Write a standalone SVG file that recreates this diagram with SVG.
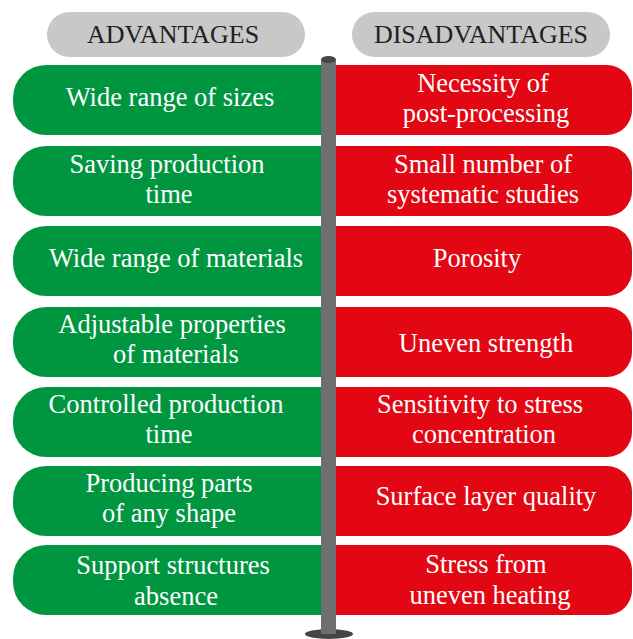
<svg xmlns="http://www.w3.org/2000/svg" width="633" height="639" viewBox="0 0 633 639">
  <style>
    .hdr { fill: #c8c8c8; }
    .hdr-t { font-family: "Liberation Serif", "Times New Roman", serif; font-size: 26px; fill: #231f20; text-anchor: middle; }
    .adv { fill: #009640; }
    .dis { fill: #e30613; }
    .item { font-family: "Liberation Serif", "Times New Roman", serif; font-size: 26.5px; fill: #ffffff; text-anchor: middle; }
    .pole { fill: #6f6f6f; }
    .pole-cap { fill: #454545; }
  </style>

  <!-- column headers -->
  <g id="header-advantages">
    <rect class="hdr" x="47" y="12" width="258" height="45" rx="22.5"/>
    <text class="hdr-t" x="173" y="43">ADVANTAGES</text>
  </g>
  <g id="header-disadvantages">
    <rect class="hdr" x="352" y="12" width="258" height="45" rx="22.5"/>
    <text class="hdr-t" x="481" y="43">DISADVANTAGES</text>
  </g>

  <!-- advantages (left, green) -->
  <g id="advantages">
    <g id="adv-1">
      <path class="adv" d="M330 65 H46 A33 33 0 0 0 13 98 V102 A33 33 0 0 0 46 135 H330 Z"/>
      <text class="item" x="170" y="106">Wide range of sizes</text>
    </g>
    <g id="adv-2">
      <path class="adv" d="M330 146 H46 A33 33 0 0 0 13 179 V183 A33 33 0 0 0 46 216 H330 Z"/>
      <text class="item" x="167" y="173">Saving production</text>
      <text class="item" x="169" y="203">time</text>
    </g>
    <g id="adv-3">
      <path class="adv" d="M330 226 H46 A33 33 0 0 0 13 259 V263 A33 33 0 0 0 46 296 H330 Z"/>
      <text class="item" x="176" y="267">Wide range of materials</text>
    </g>
    <g id="adv-4">
      <path class="adv" d="M330 307 H46 A33 33 0 0 0 13 340 V344 A33 33 0 0 0 46 377 H330 Z"/>
      <text class="item" x="172" y="333">Adjustable properties</text>
      <text class="item" x="176" y="363">of materials</text>
    </g>
    <g id="adv-5">
      <path class="adv" d="M330 387 H46 A33 33 0 0 0 13 420 V424 A33 33 0 0 0 46 457 H330 Z"/>
      <text class="item" x="166" y="413">Controlled production</text>
      <text class="item" x="169" y="443">time</text>
    </g>
    <g id="adv-6">
      <path class="adv" d="M330 466 H46 A33 33 0 0 0 13 499 V503 A33 33 0 0 0 46 536 H330 Z"/>
      <text class="item" x="169" y="492">Producing parts</text>
      <text class="item" x="169" y="522">of any shape</text>
    </g>
    <g id="adv-7">
      <path class="adv" d="M330 545 H46 A33 33 0 0 0 13 578 V582 A33 33 0 0 0 46 615 H330 Z"/>
      <text class="item" x="173" y="574">Support structures</text>
      <text class="item" x="176" y="605">absence</text>
    </g>
  </g>

  <!-- disadvantages (right, red) -->
  <g id="disadvantages">
    <g id="dis-1">
      <path class="dis" d="M328 65 H607 A25 25 0 0 1 632 90 V110 A25 25 0 0 1 607 135 H328 Z"/>
      <text class="item" x="483" y="92">Necessity of</text>
      <text class="item" x="486" y="122">post-processing</text>
    </g>
    <g id="dis-2">
      <path class="dis" d="M328 146 H607 A25 25 0 0 1 632 171 V191 A25 25 0 0 1 607 216 H328 Z"/>
      <text class="item" x="483" y="173">Small number of</text>
      <text class="item" x="483" y="203">systematic studies</text>
    </g>
    <g id="dis-3">
      <path class="dis" d="M328 226 H607 A25 25 0 0 1 632 251 V271 A25 25 0 0 1 607 296 H328 Z"/>
      <text class="item" x="477" y="267">Porosity</text>
    </g>
    <g id="dis-4">
      <path class="dis" d="M328 307 H607 A25 25 0 0 1 632 332 V352 A25 25 0 0 1 607 377 H328 Z"/>
      <text class="item" x="486" y="352">Uneven strength</text>
    </g>
    <g id="dis-5">
      <path class="dis" d="M328 387 H607 A25 25 0 0 1 632 412 V432 A25 25 0 0 1 607 457 H328 Z"/>
      <text class="item" x="480" y="413">Sensitivity to stress</text>
      <text class="item" x="484" y="443">concentration</text>
    </g>
    <g id="dis-6">
      <path class="dis" d="M328 466 H607 A25 25 0 0 1 632 491 V511 A25 25 0 0 1 607 536 H328 Z"/>
      <text class="item" x="486" y="505">Surface layer quality</text>
    </g>
    <g id="dis-7">
      <path class="dis" d="M328 545 H607 A25 25 0 0 1 632 570 V590 A25 25 0 0 1 607 615 H328 Z"/>
      <text class="item" x="486" y="573">Stress from</text>
      <text class="item" x="490" y="604">uneven heating</text>
    </g>
  </g>

  <!-- central post dividing the two columns -->
  <g id="post">
    <ellipse class="pole-cap" cx="329" cy="634" rx="24" ry="5"/>
    <rect class="pole" x="321" y="60" width="15" height="574"/>
    <ellipse class="pole-cap" cx="328.5" cy="59.5" rx="7.5" ry="3.5"/>
  </g>
</svg>
